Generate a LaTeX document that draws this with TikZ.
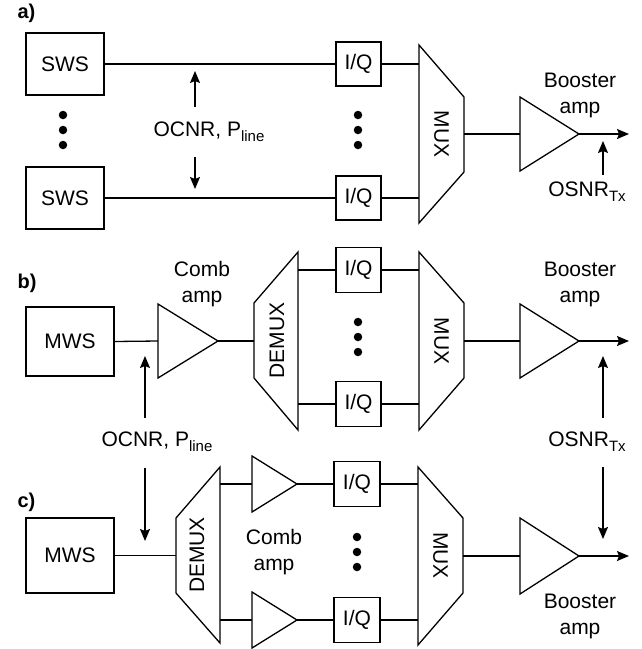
\documentclass[tikz,border=0pt]{standalone}
\usepackage{fontspec}
\setmainfont{Liberation Sans}
\usetikzlibrary{arrows.meta}
\newcommand\lowsub[1]{\raisebox{-5pt}{\fontsize{15}{15}\selectfont #1}}
\tikzset{
  every node/.style={font=\fontsize{21}{26}\selectfont},
  lw/.style={line width=1.3pt},
  box/.style={draw, lw, inner sep=0pt},
  lbl/.style={font=\fontsize{20}{26}\selectfont\bfseries, anchor=west},
  txt/.style={align=center, inner sep=0pt},
  conn/.style={lw},
  arr/.style={lw, -{Stealth[length=12pt,width=10pt,inset=2pt]}},
  dot/.style={fill, circle, inner sep=0pt, minimum size=8.5pt},
}
\begin{document}
\begin{tikzpicture}[x=1pt,y=-1pt]
\useasboundingbox (0,0) rectangle (641,649);

% ---------------- panel a ----------------
\node[lbl] (la) at (14,13) {a)};
\node[box, minimum width=78, minimum height=62] (swsA) at (65,64) {SWS};
\node[box, minimum width=78, minimum height=62] (swsB) at (65,198) {SWS};
\node[dot] (da1) at (63,115) {};
\node[dot] (da2) at (63,130) {};
\node[dot] (da3) at (63,145) {};
\node[box, minimum width=45, minimum height=44] (iqA1) at (358.5,64) {I/Q};
\node[box, minimum width=45, minimum height=44] (iqA2) at (358.5,198) {I/Q};
\node[dot] (db1) at (358,115) {};
\node[dot] (db2) at (358,130) {};
\node[dot] (db3) at (358,145) {};
\draw[conn] (swsA.east) -- (iqA1.west);
\draw[conn] (swsB.east) -- (iqA2.west);
\node[txt] (ocnrA) at (209,132) {OCNR, P\lowsub{line}};
\coordinate (ocA1s) at (195,107); \coordinate (ocA1e) at (195,71);
\coordinate (ocA2s) at (195,157); \coordinate (ocA2e) at (195,189);
\draw[arr] (ocA1s) -- (ocA1e);
\draw[arr] (ocA2s) -- (ocA2e);
% MUX a
\draw[lw] (419,45) -- (464,97) -- (464,172) -- (419,223) -- cycle;
\node[txt, rotate=-90] (muxA) at (441.5,134) {MUX};
\coordinate (muxAi1) at (419,64);
\coordinate (muxAi2) at (419,198);
\coordinate (muxAo) at (464,134);
\draw[conn] (iqA1.east) -- (muxAi1);
\draw[conn] (iqA2.east) -- (muxAi2);
% booster a
\draw[lw] (520,97) -- (579,134) -- (520,171) -- cycle;
\coordinate (bAi) at (520,134);
\coordinate (bAo) at (579,134);
\coordinate (outA) at (629,134);
\draw[conn] (muxAo) -- (bAi);
\draw[arr] (bAo) -- (outA);
\node[txt] (boostA) at (580,95) {Booster\\amp};
\node[txt] (osnrA) at (587,192) {OSNR\lowsub{Tx}};
\coordinate (osA1) at (603,175); \coordinate (osA2) at (603,141);
\draw[arr] (osA1) -- (osA2);

% ---------------- panel b ----------------
\node[lbl] (lb) at (14,283) {b)};
\node[box, minimum width=88, minimum height=69] (mwsB) at (70,341.5) {MWS};
\draw[lw] (158,304) -- (218,341) -- (158,378) -- cycle;
\coordinate (cBi) at (158,341); \coordinate (cBo) at (218,341);
\node[txt] (combB) at (202,284.5) {Comb\\amp};
\draw[lw] (254,303) -- (298,252) -- (298,430) -- (254,378) -- cycle;
\node[txt, rotate=90] (demB) at (277,340.5) {DEMUX};
\coordinate (dBi) at (254,341);
\coordinate (dBo1) at (298,270);
\coordinate (dBo2) at (298,404);
\draw[conn] (mwsB.east) -- (cBi);
\draw[conn] (cBo) -- (dBi);
\node[box, minimum width=45, minimum height=45] (iqB1) at (358.5,270) {I/Q};
\node[box, minimum width=45, minimum height=45] (iqB2) at (358.5,404) {I/Q};
\node[dot] (dc1) at (358,322) {};
\node[dot] (dc2) at (358,337) {};
\node[dot] (dc3) at (358,352) {};
\draw[conn] (dBo1) -- (iqB1.west);
\draw[conn] (dBo2) -- (iqB2.west);
\draw[lw] (419,252) -- (464,303) -- (464,378) -- (419,430) -- cycle;
\node[txt, rotate=-90] (muxB) at (441.5,341) {MUX};
\coordinate (muxBi1) at (419,270);
\coordinate (muxBi2) at (419,404);
\coordinate (muxBo) at (464,341);
\draw[conn] (iqB1.east) -- (muxBi1);
\draw[conn] (iqB2.east) -- (muxBi2);
\draw[lw] (520,304) -- (579,341) -- (520,378) -- cycle;
\coordinate (bBi) at (520,341);
\coordinate (bBo) at (579,341);
\coordinate (outB) at (629,341);
\draw[conn] (muxBo) -- (bBi);
\draw[arr] (bBo) -- (outB);
\node[txt] (boostB) at (580,284.5) {Booster\\amp};
\coordinate (ocB1) at (145,418); \coordinate (ocB2) at (145,356);
\draw[arr] (ocB1) -- (ocB2);
\coordinate (osB1) at (603,418); \coordinate (osB2) at (603,356);
\draw[arr] (osB1) -- (osB2);

% shared labels
\node[txt] (ocnrBC) at (157,442) {OCNR, P\lowsub{line}};
\node[txt] (osnrBC) at (587,442) {OSNR\lowsub{Tx}};

% ---------------- panel c ----------------
\node[lbl] (lc) at (14,502) {c)};
\coordinate (ocC1) at (145,468); \coordinate (ocC2) at (145,541);
\draw[arr] (ocC1) -- (ocC2);
\node[box, minimum width=88, minimum height=75] (mwsC) at (70,555.5) {MWS};
\draw[lw] (176,518) -- (220,467) -- (220,643) -- (176,593) -- cycle;
\node[txt, rotate=90] (demC) at (197,555) {DEMUX};
\coordinate (dCi) at (176,555.5);
\coordinate (dCo1) at (220,484);
\coordinate (dCo2) at (220,620);
\draw[conn] (mwsC.east) -- (dCi);
\draw[lw] (252,456) -- (297,484) -- (252,512) -- cycle;
\draw[lw] (252,592) -- (297,620) -- (252,648) -- cycle;
\coordinate (cC1i) at (252,484); \coordinate (cC1o) at (297,484);
\coordinate (cC2i) at (252,620); \coordinate (cC2o) at (297,620);
\draw[conn] (dCo1) -- (cC1i);
\draw[conn] (dCo2) -- (cC2i);
\node[txt] (combC) at (274,552.5) {Comb\\amp};
\node[box, minimum width=46, minimum height=45] (iqC1) at (357,484) {I/Q};
\node[box, minimum width=46, minimum height=45] (iqC2) at (357,620) {I/Q};
\node[dot] (dd1) at (357,537) {};
\node[dot] (dd2) at (357,552) {};
\node[dot] (dd3) at (357,567) {};
\draw[conn] (cC1o) -- (iqC1.west);
\draw[conn] (cC2o) -- (iqC2.west);
\draw[lw] (418,467) -- (463,518) -- (463,593) -- (418,645) -- cycle;
\node[txt, rotate=-90] (muxC) at (440.5,555.5) {MUX};
\coordinate (muxCi1) at (418,484);
\coordinate (muxCi2) at (418,620);
\coordinate (muxCo) at (463,556);
\draw[conn] (iqC1.east) -- (muxCi1);
\draw[conn] (iqC2.east) -- (muxCi2);
\draw[lw] (520,518) -- (579,556) -- (520,594) -- cycle;
\coordinate (bCi) at (520,556);
\coordinate (bCo) at (579,556);
\coordinate (outC) at (629,556);
\draw[conn] (muxCo) -- (bCi);
\draw[arr] (bCo) -- (outC);
\node[txt] (boostC) at (580,616) {Booster\\amp};
\coordinate (osC1) at (603,467); \coordinate (osC2) at (603,539);
\draw[arr] (osC1) -- (osC2);
\end{tikzpicture}
\end{document}
